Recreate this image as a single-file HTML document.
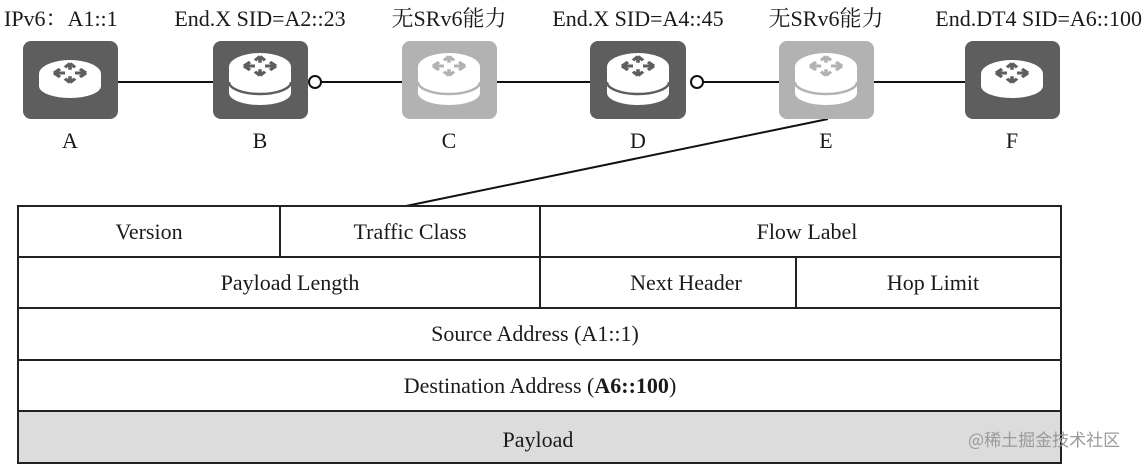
<!DOCTYPE html>
<html><head><meta charset="utf-8"><style>
html,body{margin:0;padding:0;background:#fff;width:1143px;height:466px;overflow:hidden}
svg{display:block}
text{font-family:"Liberation Serif","Noto Serif CJK SC","Noto Sans CJK SC",serif;fill:#1a1a1a}
</style></head><body>
<svg width="1143" height="466" viewBox="0 0 1143 466" xmlns="http://www.w3.org/2000/svg">
<defs>
<g id="arr" fill="none" stroke-width="3.6">
  <path d="M-16,0 h11 M-16,0 l6,-5 M-16,0 l6,5"/>
  <path d="M16,0 h-11 M16,0 l-6,-5 M16,0 l-6,5"/>
  <path d="M0,-12 v8 M0,-12 l-5,5 M0,-12 l5,5"/>
  <path d="M0,12 v-8 M0,12 l-5,-5 M0,12 l5,-5"/>
</g>
</defs>
<g stroke="#111" stroke-width="2">
  <line x1="118" y1="82" x2="213" y2="82"/>
  <line x1="321" y1="82" x2="402" y2="82"/>
  <line x1="497" y1="82" x2="590" y2="82"/>
  <line x1="703" y1="82" x2="779" y2="82"/>
  <line x1="874" y1="82" x2="965" y2="82"/>
  <line x1="828" y1="119" x2="406" y2="206"/>
</g>
<circle cx="315" cy="82" r="6" fill="#fff" stroke="#111" stroke-width="2"/>
<circle cx="697" cy="82" r="6" fill="#fff" stroke="#111" stroke-width="2"/>

<g>
<rect x="23" y="41" width="95" height="78" rx="8" fill="#5e5e5e"/>
<g transform="translate(70,74)"><path d="M-31,0 v12 a31,12 0 0 0 62,0 v-12 z" fill="#fff"/><ellipse cx="0" cy="0" rx="31" ry="14" fill="#fff"/><g transform="translate(0,-1) scale(1,0.8)" stroke="#5e5e5e"><use href="#arr"/></g></g>
<rect x="965" y="41" width="95" height="78" rx="8" fill="#5e5e5e"/>
<g transform="translate(1012,74)"><path d="M-31,0 v12 a31,12 0 0 0 62,0 v-12 z" fill="#fff"/><ellipse cx="0" cy="0" rx="31" ry="14" fill="#fff"/><g transform="translate(0,-1) scale(1,0.8)" stroke="#5e5e5e"><use href="#arr"/></g></g>
</g>
<g>
<rect x="213" y="41" width="95" height="78" rx="8" fill="#5e5e5e"/>
<g transform="translate(260,67)"><path d="M-31,0 v26 a31,12 0 0 0 62,0 v-26 z" fill="#fff"/><ellipse cx="0" cy="0" rx="31" ry="14" fill="#fff"/><path d="M-31,15 a31,12 0 0 0 62,0" fill="none" stroke="#5e5e5e" stroke-width="2.5"/><g transform="translate(0,-1) scale(1,0.8)" stroke="#5e5e5e"><use href="#arr"/></g></g>
<rect x="402" y="41" width="95" height="78" rx="8" fill="#b2b2b2"/>
<g transform="translate(449,67)"><path d="M-31,0 v26 a31,12 0 0 0 62,0 v-26 z" fill="#fff"/><ellipse cx="0" cy="0" rx="31" ry="14" fill="#fff"/><path d="M-31,15 a31,12 0 0 0 62,0" fill="none" stroke="#b2b2b2" stroke-width="2.5"/><g transform="translate(0,-1) scale(1,0.8)" stroke="#b2b2b2"><use href="#arr"/></g></g>
<rect x="590" y="41" width="96" height="78" rx="8" fill="#5e5e5e"/>
<g transform="translate(638,67)"><path d="M-31,0 v26 a31,12 0 0 0 62,0 v-26 z" fill="#fff"/><ellipse cx="0" cy="0" rx="31" ry="14" fill="#fff"/><path d="M-31,15 a31,12 0 0 0 62,0" fill="none" stroke="#5e5e5e" stroke-width="2.5"/><g transform="translate(0,-1) scale(1,0.8)" stroke="#5e5e5e"><use href="#arr"/></g></g>
<rect x="779" y="41" width="95" height="78" rx="8" fill="#b2b2b2"/>
<g transform="translate(826,67)"><path d="M-31,0 v26 a31,12 0 0 0 62,0 v-26 z" fill="#fff"/><ellipse cx="0" cy="0" rx="31" ry="14" fill="#fff"/><path d="M-31,15 a31,12 0 0 0 62,0" fill="none" stroke="#b2b2b2" stroke-width="2.5"/><g transform="translate(0,-1) scale(1,0.8)" stroke="#b2b2b2"><use href="#arr"/></g></g>
</g>

<g font-size="22">
<text x="4" y="26">IPv6：A1::1</text>
<text x="260" y="26" text-anchor="middle">End.X SID=A2::23</text>
<text x="449" y="26" text-anchor="middle">无SRv6能力</text>
<text x="638" y="26" text-anchor="middle">End.X SID=A4::45</text>
<text x="826" y="26" text-anchor="middle">无SRv6能力</text>
<text x="1142" y="26" text-anchor="end">End.DT4 SID=A6::100</text>
<text x="70" y="148" text-anchor="middle">A</text>
<text x="260" y="148" text-anchor="middle">B</text>
<text x="449" y="148" text-anchor="middle">C</text>
<text x="638" y="148" text-anchor="middle">D</text>
<text x="826" y="148" text-anchor="middle">E</text>
<text x="1012" y="148" text-anchor="middle">F</text>
</g>

<rect x="18" y="411" width="1043" height="52" fill="#dcdcdc"/>
<g stroke="#222" stroke-width="2" fill="none">
<rect x="18" y="206" width="1043" height="257"/>
<line x1="18" y1="257" x2="1061" y2="257"/>
<line x1="18" y1="308" x2="1061" y2="308"/>
<line x1="18" y1="360" x2="1061" y2="360"/>
<line x1="18" y1="411" x2="1061" y2="411"/>
<line x1="280" y1="206" x2="280" y2="257"/>
<line x1="540" y1="206" x2="540" y2="308"/>
<line x1="796" y1="257" x2="796" y2="308"/>
</g>
<g font-size="22" text-anchor="middle">
<text x="149" y="239">Version</text>
<text x="410" y="239">Traffic Class</text>
<text x="807" y="239">Flow Label</text>
<text x="290" y="290">Payload Length</text>
<text x="686" y="290">Next Header</text>
<text x="933" y="290">Hop Limit</text>
<text x="535" y="341">Source Address (A1::1)</text>
<text x="540" y="393">Destination Address (<tspan font-weight="bold">A6::100</tspan>)</text>
<text x="538" y="447">Payload</text>
</g>
<text x="968" y="446" font-size="17" style="font-family:'Noto Sans CJK SC',sans-serif;fill:#9a9a9a">@稀土掘金技术社区</text>
</svg>
</body></html>
